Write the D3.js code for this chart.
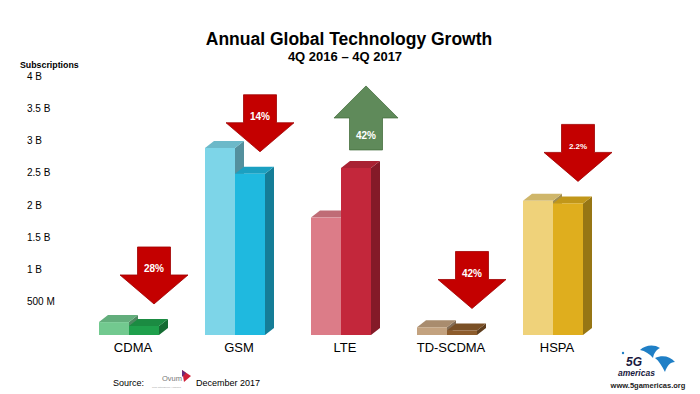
<!DOCTYPE html>
<html>
<head>
<meta charset="utf-8">
<script src="https://cdn.jsdelivr.net/npm/d3@7"></script>
<style>
  body { margin: 0; background: #fff; }
  svg { display: block; font-family: Arial, "Liberation Sans", sans-serif; }
</style>
</head>
<body>
<svg id="chart"></svg>
<script>
const categories = ["CDMA", "GSM", "LTE", "TD-SCDMA", "HSPA"];
const subs4Q2016 = [0.20, 2.90, 1.82, 0.12, 2.08];   // billions
const subs4Q2017 = [0.14, 2.50, 2.59, 0.07, 2.04];
const growthLabels = ["28%", "14%", "42%", "42%", "2.2%"];
const growthDir = ["down", "down", "up", "down", "down"];
const tickValues = [0.5, 1, 1.5, 2, 2.5, 3, 3.5, 4];
const tickLabels = ["500 M", "1 B", "1.5 B", "2 B", "2.5 B", "3 B", "3.5 B", "4 B"];

const lightColors = ["#72c98f", "#7dd5e8", "#dc7c88", "#c3a27f", "#efd27a"];
const darkColors = ["#1fa04c", "#1fb9df", "#c3273b", "#8d5c2c", "#dfae1e"];

const width = 700, height = 394;
const svg = d3.select("#chart").attr("width", width).attr("height", height);

const x = d3.scalePoint().domain(categories).range([129, 553]);
const y = d3.scaleLinear().domain([0, 4]).range([335, 77]);

const barW = 30, dx = 9, dy = 7;

// titles
svg.append("text").attr("x", 349).attr("y", 45).attr("text-anchor", "middle")
  .attr("font-size", 17.5).attr("font-weight", "bold").text("Annual Global Technology Growth");
svg.append("text").attr("x", 345).attr("y", 61).attr("text-anchor", "middle")
  .attr("font-size", 13).attr("font-weight", "bold").text("4Q 2016 \u2013 4Q 2017");

// y labels (plain text, no axis line)
svg.append("text").attr("x", 20).attr("y", 68).attr("font-size", 8.8)
  .attr("font-weight", "bold").text("Subscriptions");
svg.selectAll(".tick-label")
  .data(tickValues)
  .enter()
  .append("text")
  .attr("class", "tick-label")
  .attr("x", 27)
  .attr("y", d => y(d) - 1)
  .attr("dy", "0.35em")
  .attr("font-size", 10)
  .text((d, i) => tickLabels[i]);

// one 3D block: front, top, side
function block(g, x0, v, color) {
  const y0 = y(0), y1 = y(v);
  const c = d3.color(color);
  g.append("path")
    .attr("d", `M${x0 + barW},${y1} L${x0 + barW + dx},${y1 - dy} L${x0 + barW + dx},${y0 - dy} L${x0 + barW},${y0} Z`)
    .attr("fill", c.darker(1.1));
  g.append("path")
    .attr("d", `M${x0},${y1} L${x0 + dx},${y1 - dy} L${x0 + barW + dx},${y1 - dy} L${x0 + barW},${y1} Z`)
    .attr("fill", c.darker(0.4));
  g.append("rect")
    .attr("x", x0).attr("y", y1).attr("width", barW).attr("height", y0 - y1)
    .attr("fill", color);
}

categories.forEach((cat, i) => {
  const g = svg.append("g");
  const cx = x(cat);
  block(g, cx - barW, subs4Q2016[i], lightColors[i]);
  block(g, cx, subs4Q2017[i], darkColors[i]);

  g.append("text")
    .attr("x", cx + 4)
    .attr("y", y(0) + 17)
    .attr("text-anchor", "middle")
    .attr("font-size", 13)
    .text(cat);
});

// growth arrows
const shaftHalf = 16.5, headHalf = 34, shaftLen = 28, headLen = 29;
categories.forEach((cat, i) => {
  const ax = x(cat) + 25;
  const g = svg.append("g");
  let d, labelY;
  if (growthDir[i] === "down") {
    const tip = y(subs4Q2017[i]) - 22;
    const top = tip - headLen - shaftLen;
    d = `M${ax - shaftHalf},${top} L${ax + shaftHalf},${top} L${ax + shaftHalf},${top + shaftLen}
         L${ax + headHalf},${top + shaftLen} L${ax},${tip} L${ax - headHalf},${top + shaftLen}
         L${ax - shaftHalf},${top + shaftLen} Z`;
    labelY = top + 22;
    g.append("path").attr("d", d).attr("fill", "#c40000").attr("stroke", "#a00000").attr("stroke-width", 0.8);
  } else {
    const bottom = y(subs4Q2017[i]) - 18;
    const tip = bottom - shaftLen - headLen - 7;
    const base = tip + headLen + 3;
    d = `M${ax},${tip} L${ax + headHalf - 2},${base} L${ax + shaftHalf},${base} L${ax + shaftHalf},${bottom}
         L${ax - shaftHalf},${bottom} L${ax - shaftHalf},${base} L${ax - headHalf + 2},${base} Z`;
    labelY = base + 18;
    g.append("path").attr("d", d).attr("fill", "#5f8a5a").attr("stroke", "#46703f").attr("stroke-width", 0.8);
  }
  g.append("text")
    .attr("x", ax)
    .attr("y", labelY)
    .attr("dy", "0.35em")
    .attr("text-anchor", "middle")
    .attr("fill", "#fff")
    .attr("font-weight", "bold")
    .attr("font-size", growthLabels[i].length > 3 ? 8 : 10)
    .text(growthLabels[i]);
});

// source line
svg.append("text").attr("x", 113).attr("y", 386).attr("font-size", 9).text("Source:");
svg.append("text").attr("x", 162).attr("y", 381).attr("font-size", 7.5).attr("fill", "#777").text("Ovum");
svg.append("text").attr("x", 152).attr("y", 388).attr("font-size", 2.5).attr("fill", "#999").text("TMT intelligence | Informa");
svg.append("path").attr("d", "M182,370 L191,376 L184,382 Z").attr("fill", "#d0203a");
svg.append("path").attr("d", "M182,370 L186,373 L182,377 Z").attr("fill", "#6a2a7a");
svg.append("text").attr("x", 196).attr("y", 386).attr("font-size", 9).text("December 2017");

// 5G Americas logo
const logo = svg.append("g");
logo.append("path")
  .attr("d", "M640,350 C645,345 654,344 660,348 C656,350 654,353 653,358 C650,354 645,351 640,350 Z")
  .attr("fill", "#1f7fc6");
logo.append("path")
  .attr("d", "M655,358 C662,355 670,356 675,362 C670,362 667,366 665,372 C662,366 659,361 655,358 Z")
  .attr("fill", "#1f7fc6");
logo.append("circle").attr("cx", 623).attr("cy", 353).attr("r", 1.2).attr("fill", "#1f7fc6");
logo.append("text").attr("x", 626).attr("y", 366).attr("font-size", 12).attr("font-weight", "bold")
  .attr("font-style", "italic").attr("fill", "#1a1a40").text("5G");
logo.append("text").attr("x", 618).attr("y", 376).attr("font-size", 8.5).attr("font-weight", "bold")
  .attr("font-style", "italic").attr("fill", "#1a1a40").text("americas");
logo.append("text").attr("x", 648).attr("y", 388).attr("text-anchor", "middle").attr("font-size", 7.5)
  .attr("font-weight", "bold").attr("fill", "#222").text("www.5gamericas.org");
</script>
</body>
</html>
